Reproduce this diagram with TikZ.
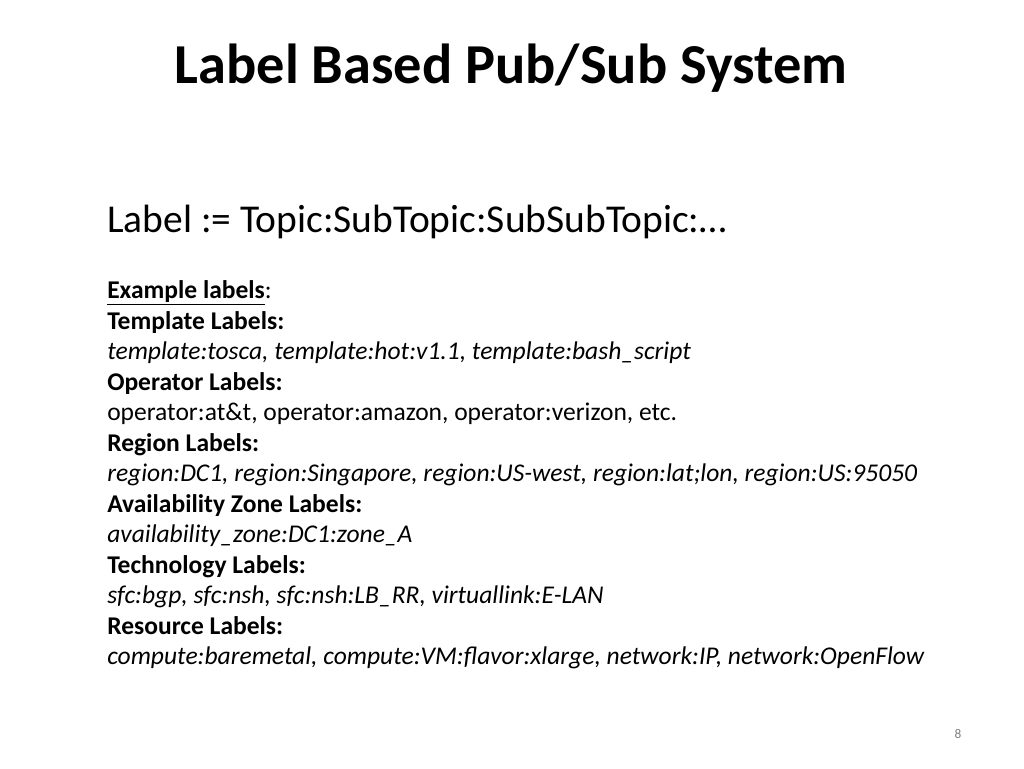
\documentclass[tikz,border=0pt]{standalone}
\usepackage{fontspec}
\setmainfont{Carlito}
\begin{document}
\begin{tikzpicture}[x=0.75pt,y=-0.75pt,
  line/.style={anchor=base west,inner sep=0pt,font=\fontsize{19.15}{23}\selectfont}]
  \useasboundingbox (0,0) rectangle (1024,768);
  % title
  \node[anchor=base,inner sep=0pt,font=\fontsize{42.3}{46}\selectfont\bfseries] (title) at (511,83) {Label Based Pub/Sub System};
  \node[anchor=base west,inner sep=0pt,font=\fontsize{29.6}{33}\selectfont] (def) at (107,232) {Label := Topic:SubTopic:SubSubTopic:…};
  % label lines
  \node[line] (l0) at (107,298) {\textbf{\underline{Example labels}}:};
  \node[line] (l1) at (107,329) {\textbf{Template Labels:}};
  \node[line] (l2) at (107,359) {\textit{template:tosca, template:hot:v1.1, template:bash\_script}};
  \node[line] (l3) at (107,390) {\textbf{Operator Labels:}};
  \node[line] (l4) at (107,420) {operator:at\&t, operator:amazon, operator:verizon, etc.};
  \node[line] (l5) at (107,451) {\textbf{Region Labels:}};
  \node[line] (l6) at (107,481) {\textit{region:DC1, region:Singapore, region:US-west, region:lat;lon, region:US:95050}};
  \node[line] (l7) at (107,512) {\textbf{Availability Zone Labels:}};
  \node[line] (l8) at (107,542) {\textit{availability\_zone:DC1:zone\_A}};
  \node[line] (l9) at (107,573) {\textbf{Technology Labels:}};
  \node[line] (l10) at (107,603) {\textit{sfc:bgp, sfc:nsh, sfc:nsh:LB\_RR, virtuallink:E-LAN}};
  \node[line] (l11) at (107,634) {\textbf{Resource Labels:}};
  \node[line] (l12) at (107,664) {\textit{compute:baremetal, compute:VM:flavor:xlarge, network:IP, network:OpenFlow}};
  % page number
  \node[anchor=base,inner sep=0pt,font=\fontsize{10}{12}\selectfont,text=gray] (page) at (958,738) {8};
\end{tikzpicture}
\end{document}
